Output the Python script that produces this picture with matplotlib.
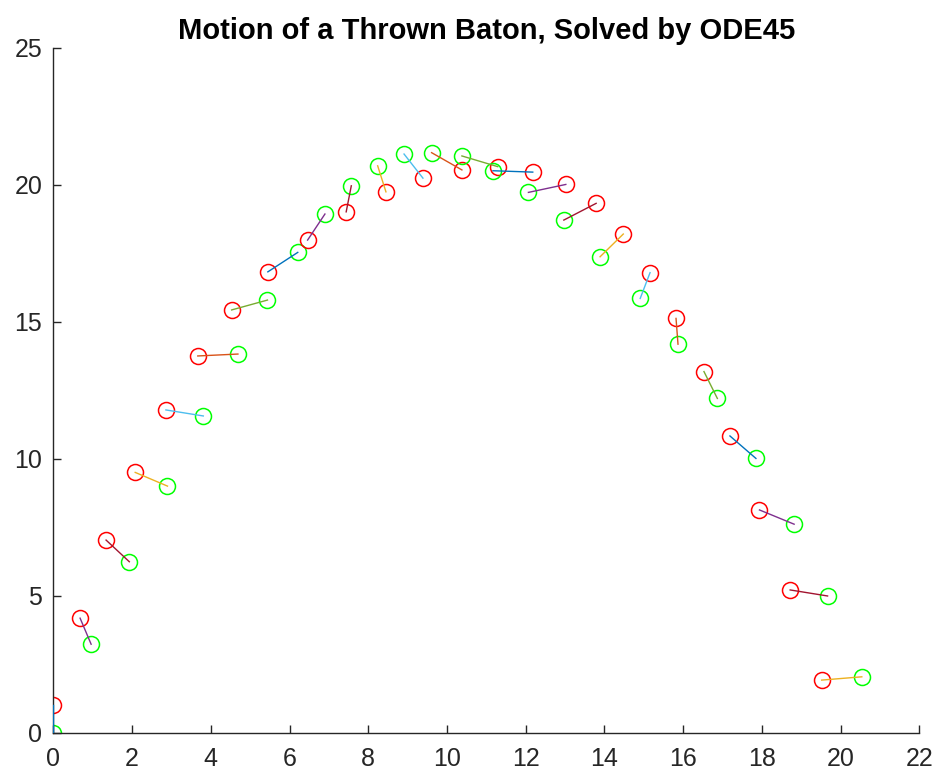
import numpy as np
import matplotlib.pyplot as plt
import matplotlib

matplotlib.rc('font', **{'family': 'Liberation Sans'})

# baton end points at each output time (red end / green end)
red_x = [0.00, 0.68, 1.34, 2.08, 2.86, 3.67, 4.53, 5.45, 6.46, 7.44, 8.45, 9.39, 10.38,
         11.29, 12.18, 13.02, 13.79, 14.48, 15.16, 15.82, 16.53, 17.19, 17.94, 18.72, 19.52]
red_y = [1.00, 4.18, 7.03, 9.50, 11.78, 13.75, 15.43, 16.82, 17.98, 19.01, 19.74, 20.24, 20.54,
         20.66, 20.46, 20.01, 19.32, 18.20, 16.79, 15.12, 13.18, 10.83, 8.13, 5.21, 1.92]
green_x = [0.00, 0.96, 1.93, 2.90, 3.81, 4.69, 5.44, 6.21, 6.90, 7.57, 8.24, 8.91, 9.61,
           10.38, 11.17, 12.07, 12.97, 13.89, 14.91, 15.87, 16.87, 17.85, 18.82, 19.67, 20.54]
green_y = [0.00, 3.23, 6.24, 9.00, 11.56, 13.82, 15.79, 17.53, 18.93, 19.96, 20.69, 21.12, 21.17,
           21.05, 20.51, 19.72, 18.71, 17.37, 15.85, 14.18, 12.20, 10.01, 7.61, 4.99, 2.04]

# default MATLAB line colour order
colororder = [(0.000, 0.447, 0.741), (0.850, 0.325, 0.098), (0.929, 0.694, 0.125),
              (0.494, 0.184, 0.556), (0.466, 0.674, 0.188), (0.301, 0.745, 0.933),
              (0.635, 0.078, 0.184)]

fig = plt.figure(figsize=(9.39, 7.76), dpi=100)
ax = fig.add_axes([0.0568, 0.0558, 0.9222, 0.8827])

for i in range(len(red_x)):
    c = colororder[(3 * i) % 7]
    ax.plot([red_x[i], green_x[i]], [red_y[i], green_y[i]], color=c, lw=1.0, zorder=3)
    ax.plot(red_x[i], red_y[i], 'o', mfc='none', mec=(1, 0, 0), ms=11.5, mew=1.1, zorder=2)
    ax.plot(green_x[i], green_y[i], 'o', mfc='none', mec=(0, 1, 0), ms=11.5, mew=1.1, zorder=2)

ax.set_xlim(0, 22)
ax.set_ylim(0, 25)
ax.set_xticks(np.arange(0, 23, 2))
ax.set_yticks(np.arange(0, 26, 5))

dark = (0.15, 0.15, 0.15)
for s in ['top', 'right']:
    ax.spines[s].set_visible(False)
for s in ['left', 'bottom']:
    ax.spines[s].set_color(dark)
    ax.spines[s].set_linewidth(1.0)
ax.tick_params(direction='in', length=5.5, width=1.0, colors=dark, labelsize=18)
ax.tick_params(axis='x', pad=10)
ax.tick_params(axis='y', pad=8)

ax.set_title('Motion of a Thrown Baton, Solved by ODE45', fontsize=21, fontweight='bold', pad=6)

plt.savefig('out.png', dpi=100)
